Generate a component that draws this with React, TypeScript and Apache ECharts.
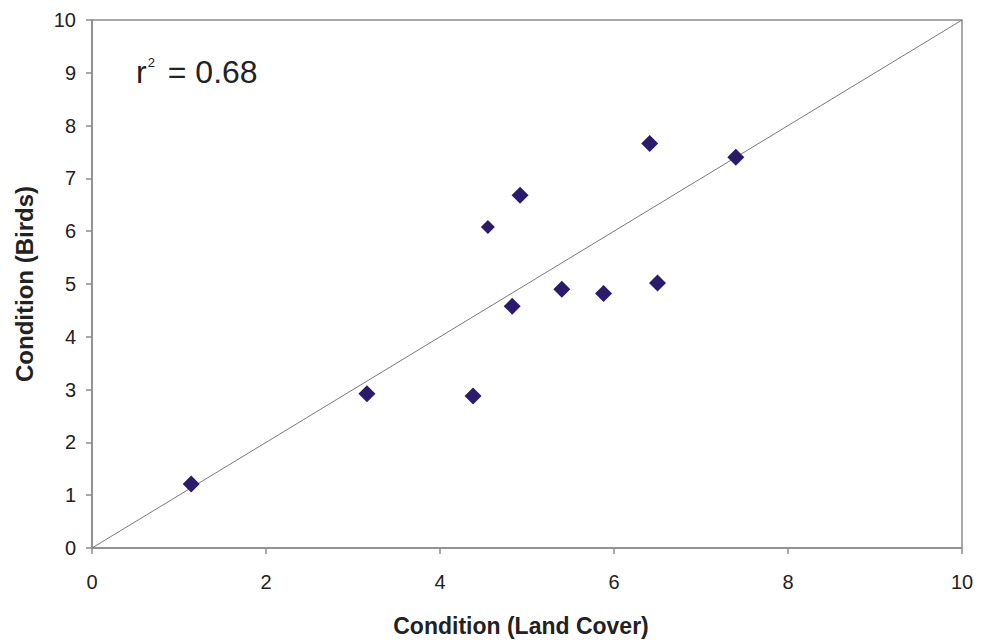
import React, { useEffect, useRef } from "react";
import * as echarts from "echarts";

const landCover = [1.14, 3.16, 4.38, 4.55, 4.83, 4.92, 5.4, 5.88, 6.41, 6.5, 7.4];
const birds = [1.21, 2.92, 2.88, 6.08, 4.58, 6.68, 4.9, 4.82, 7.66, 5.02, 7.4];
const smallMarker = [false, false, false, true, false, false, false, false, false, false, false];
const oneToOneLine = [
  [0, 0],
  [10, 10],
];
const xTicks = { min: 0, max: 10, interval: 2 };
const yTicks = { min: 0, max: 10, interval: 1 };
const rSquared = "0.68";
const xTitle = "Condition (Land Cover)";
const yTitle = "Condition (Birds)";

export default function App() {
  const ref = useRef<HTMLDivElement>(null);
  useEffect(() => {
    if (!ref.current) return;
    const chart = echarts.init(ref.current, undefined, { renderer: "svg" });
    const font = "Liberation Sans, Arial, Helvetica, sans-serif";
    const points = landCover.map((x, i) => ({
      value: [x, birds[i]],
      symbolSize: smallMarker[i] ? 14 : 17,
    }));
    chart.setOption({
      animation: false,
      backgroundColor: "#ffffff",
      grid: {
        left: 92,
        top: 20,
        right: 19,
        bottom: 92,
        show: true,
        borderColor: "#8c8c8c",
        borderWidth: 1.5,
        backgroundColor: "transparent",
      },
      xAxis: {
        type: "value",
        min: xTicks.min,
        max: xTicks.max,
        interval: xTicks.interval,
        axisLine: { show: true, lineStyle: { color: "#8c8c8c", width: 1.5 } },
        axisTick: { show: true, length: 6, inside: false, lineStyle: { color: "#8c8c8c", width: 1.5 } },
        axisLabel: { fontFamily: font, fontSize: 20, color: "#222", margin: 24 },
        splitLine: { show: false },
      },
      yAxis: {
        type: "value",
        min: yTicks.min,
        max: yTicks.max,
        interval: yTicks.interval,
        name: yTitle,
        nameLocation: "middle",
        nameGap: 56,
        nameTextStyle: { fontFamily: font, fontWeight: "bold", fontSize: 24, color: "#222" },
        axisLine: { show: true, lineStyle: { color: "#8c8c8c", width: 1.5 } },
        axisTick: { show: true, length: 6, inside: false, lineStyle: { color: "#8c8c8c", width: 1.5 } },
        axisLabel: { fontFamily: font, fontSize: 20, color: "#222", margin: 16 },
        splitLine: { show: false },
      },
      graphic: [
        {
          type: "text",
          left: 136,
          top: 56,
          style: {
            text: "{r|r}{s|2}{r| = " + rSquared + "}",
            rich: {
              r: { fontFamily: font, fontSize: 32, fill: "#222", verticalAlign: "bottom" },
              s: { fontFamily: font, fontSize: 13, fill: "#222", verticalAlign: "top", padding: [0, 4, 14, 1] },
            },
            fill: "#222",
          },
        },
        {
          type: "text",
          x: 521,
          y: 626,
          style: {
            text: xTitle,
            fontFamily: font,
            fontWeight: "bold",
            fontSize: 23,
            fill: "#222",
            align: "center",
            verticalAlign: "middle",
          },
        },
      ],
      series: [
        {
          type: "line",
          data: oneToOneLine,
          symbol: "none",
          lineStyle: { color: "#7a7a7a", width: 1 },
          silent: true,
          z: 1,
        },
        {
          type: "scatter",
          data: points,
          symbol: "diamond",
          itemStyle: { color: "#2a1b6c", opacity: 1 },
          z: 3,
        },
      ],
    });
    return () => chart.dispose();
  }, []);
  return (
    <div
      ref={ref}
      style={{ position: "absolute", left: 0, top: 0, width: 981, height: 640 }}
    />
  );
}
